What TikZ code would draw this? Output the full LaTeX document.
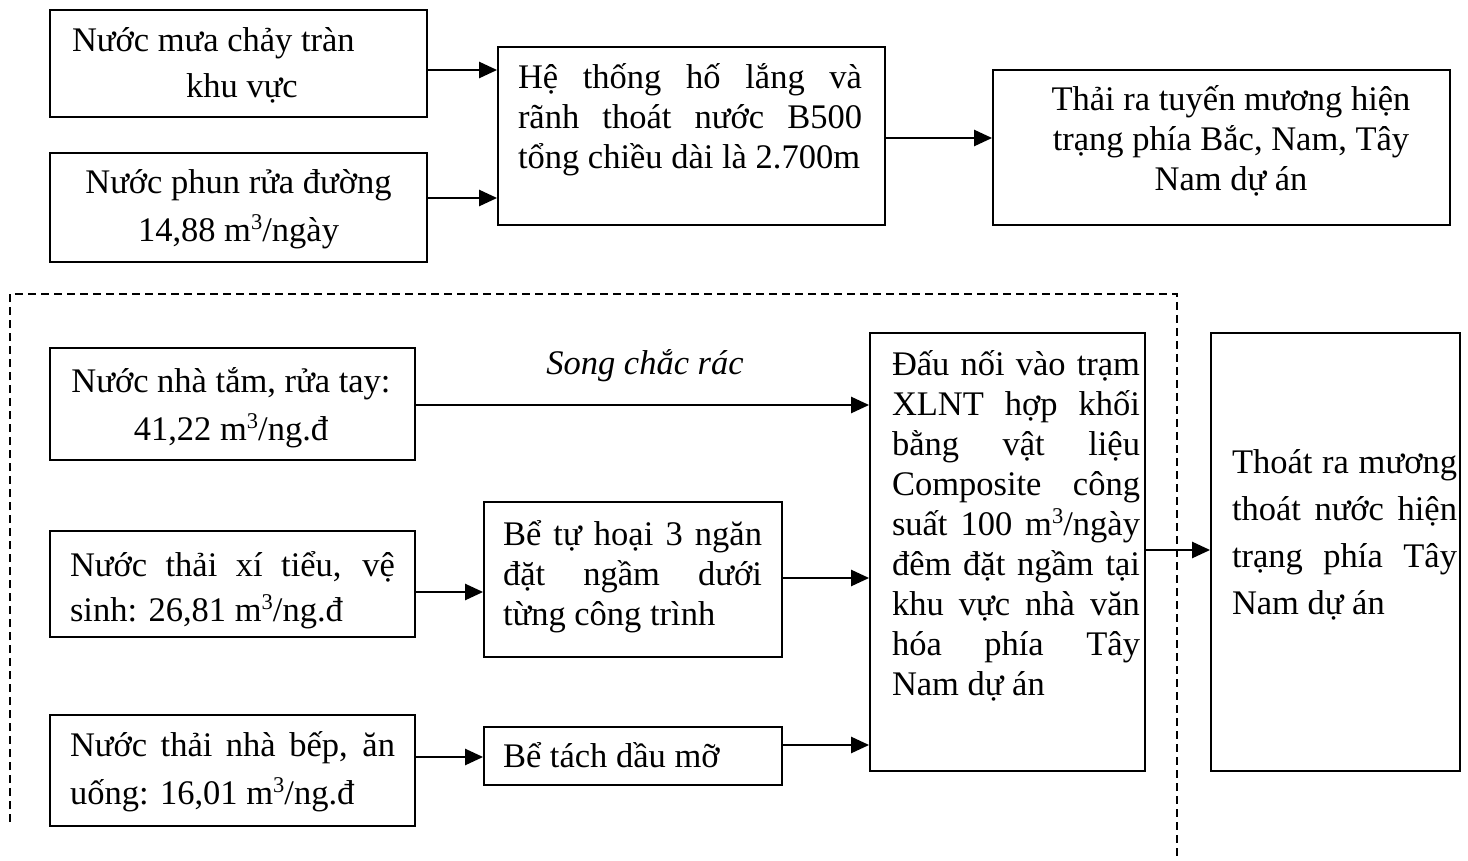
\documentclass[tikz,border=0pt]{standalone}
\usepackage{fontspec}
\setmainfont{Liberation Serif}
\usetikzlibrary{arrows.meta}
\newlength\Lm
\newlength\Rm
\newcommand\FS{\rule{0pt}{34pt}}
\newcommand\sthree{\raisebox{12pt}{\fontsize{22.5pt}{22.5pt}\selectfont 3}}
\newcommand\LJ[1]{\hbox to\linewidth{\hskip\Lm\relax #1\hskip\Rm\relax}}
\newcommand\LL[1]{\hbox to\linewidth{\hskip\Lm\relax #1\hfil}}
\newcommand\LC[1]{\hbox to\linewidth{\hskip\Lm\relax\hfil #1\hfil\hskip\Rm\relax}}
% width, height, Lm, Rm, baselineskip, top offset, lines
\newcommand\bxc[7]{\parbox[c][#2][t]{#1}{\setlength\Lm{#3}\setlength\Rm{#4}\lineskiplimit=-100pt\baselineskip=#5\kern#6\relax #7}}
\tikzset{
  bx/.style={draw, line width=1.8pt, inner sep=0pt, font=\fontsize{34.5pt}{40pt}\selectfont},
  arr/.style={line width=2.4pt, -{Triangle[length=18pt,width=16pt]}},
  dashline/.style={line width=2.2pt, dash pattern=on 8pt off 5pt}
}
\begin{document}
\begin{tikzpicture}[x=1pt,y=-1pt]
\useasboundingbox[fill=white] (0,0) rectangle (1468,861);

\node[bx, minimum width=377pt, minimum height=107pt] (a) at (238.5,63.5)
  {\bxc{377pt}{107pt}{22pt}{15pt}{46pt}{8pt}{\LL{\FS Nước mưa chảy tràn}\LC{khu vực}}};
\node[bx, minimum width=377pt, minimum height=109pt] (b) at (238.5,207.5)
  {\bxc{377pt}{109pt}{20pt}{20pt}{48pt}{7pt}{\LC{\FS Nước phun rửa đường}\LC{14,88 m\sthree/ngày}}};
\node[bx, minimum width=387pt, minimum height=178pt] (c) at (691.5,136)
  {\bxc{387pt}{178pt}{20pt}{23pt}{40pt}{8pt}{\LJ{\FS Hệ thống hố lắng và}\LJ{rãnh thoát nước B500}\LL{tổng chiều dài là 2.700m}}};
\node[bx, minimum width=457pt, minimum height=155pt] (d) at (1221.5,147.5)
  {\bxc{457pt}{155pt}{29pt}{10pt}{40pt}{7pt}{\LC{\FS Thải ra tuyến mương hiện}\LC{trạng phía Bắc, Nam, Tây}\LC{Nam dự án}}};

\node[bx, minimum width=365pt, minimum height=112pt] (e) at (232.5,404)
  {\bxc{365pt}{112pt}{17pt}{20pt}{48pt}{10pt}{\LC{\FS Nước nhà tắm, rửa tay:}\LC{41,22 m\sthree/ng.đ}}};
\node[bx, minimum width=365pt, minimum height=106pt] (f) at (232.5,584)
  {\bxc{365pt}{106pt}{20pt}{20pt}{45pt}{11pt}{\LJ{\FS Nước thải xí tiểu, vệ}\LL{sinh: 26,81 m\sthree/ng.đ}}};
\node[bx, minimum width=365pt, minimum height=111pt] (g) at (232.5,770.5)
  {\bxc{365pt}{111pt}{20pt}{20pt}{48pt}{7pt}{\LJ{\FS Nước thải nhà bếp, ăn}\LL{uống: 16,01 m\sthree/ng.đ}}};
\node[bx, minimum width=298pt, minimum height=155pt] (h) at (633,579.5)
  {\bxc{298pt}{155pt}{19pt}{20pt}{40pt}{9pt}{\LJ{\FS Bể tự hoại 3 ngăn}\LJ{đặt ngầm dưới}\LL{từng công trình}}};
\node[bx, minimum width=298pt, minimum height=58pt] (i) at (633,756)
  {\bxc{298pt}{58pt}{19pt}{0pt}{40pt}{6pt}{\LL{\FS Bể tách dầu mỡ}}};
\node[bx, minimum width=275pt, minimum height=438pt] (j) at (1007.5,552)
  {\bxc{275pt}{438pt}{22pt}{5pt}{40pt}{8pt}{\LJ{\FS Đấu nối vào trạm}\LJ{XLNT hợp khối}\LJ{bằng vật liệu}\LJ{Composite công}\LJ{suất 100 m\sthree/ngày}\LJ{đêm đặt ngầm tại}\LJ{khu vực nhà văn}\LJ{hóa phía Tây}\LL{Nam dự án}}};
\node[bx, minimum width=249pt, minimum height=438pt] (k) at (1335.5,552)
  {\bxc{249pt}{438pt}{21pt}{3pt}{47pt}{106pt}{\LJ{\FS Thoát ra mương}\LJ{thoát nước hiện}\LJ{trạng phía Tây}\LL{Nam dự án}}};

\node[font=\fontsize{34.5pt}{40pt}\selectfont\itshape, anchor=base, inner sep=0pt] (lbl) at (645,374) {Song chắc rác};

\draw[arr] (a.east |- 0,70) -- (c.west |- 0,70);
\draw[arr] (b.east |- 0,198) -- (c.west |- 0,198);
\draw[arr] (c.east |- 0,138) -- (d.west |- 0,138);
\draw[arr] (e.east |- 0,405) -- (j.west |- 0,405);
\draw[arr] (f.east |- 0,592) -- (h.west |- 0,592);
\draw[arr] (h.east |- 0,578) -- (j.west |- 0,578);
\draw[arr] (g.east |- 0,757) -- (i.west |- 0,757);
\draw[arr] (i.east |- 0,745) -- (j.west |- 0,745);
\draw[arr] (j.east |- 0,550) -- (k.west |- 0,550);

\coordinate (dl) at (10,822);
\coordinate (dtl) at (10,294);
\coordinate (dtr) at (1177,294);
\coordinate (dbr) at (1177,861);
\draw[dashline] (dl) -- (dtl) -- (dtr) -- (dbr);
\end{tikzpicture}
\end{document}
